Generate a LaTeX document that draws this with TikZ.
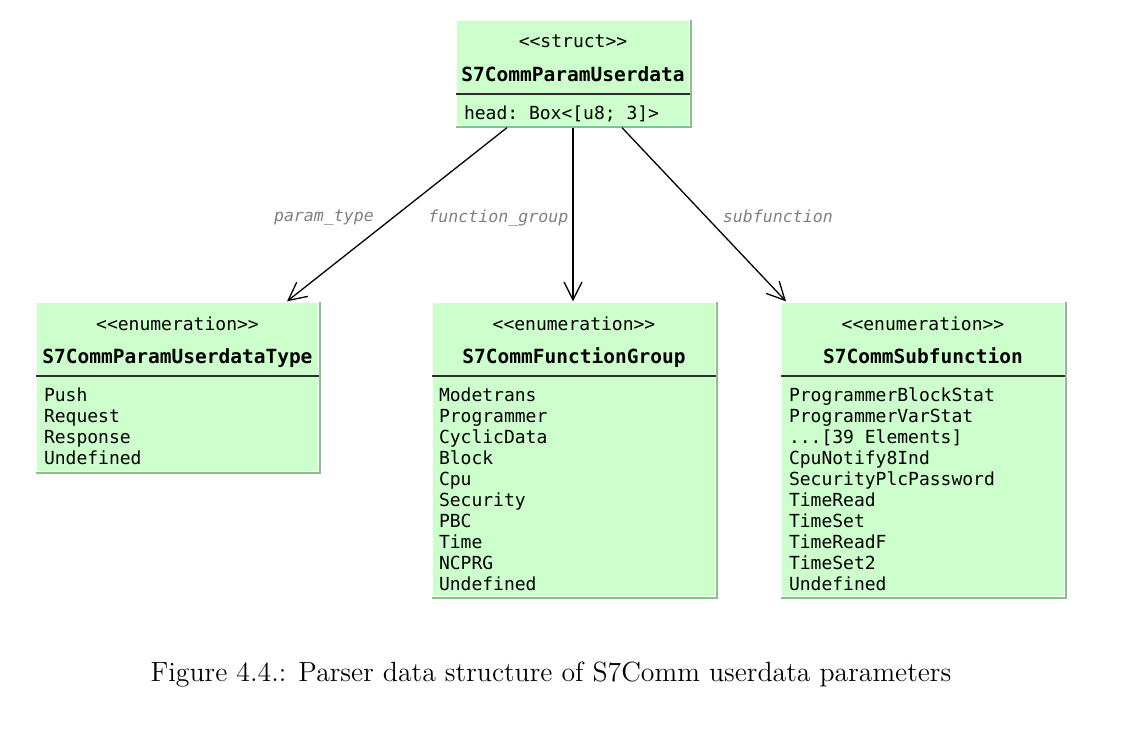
\documentclass[tikz,border=0pt]{standalone}
\usepackage{fontspec}
\setmonofont{DejaVu Sans Mono}
\usetikzlibrary{arrows.meta,positioning}
\definecolor{umlfill}{RGB}{204,255,204}
\definecolor{umlshade}{RGB}{143,188,143}
\definecolor{umlrule}{RGB}{45,45,45}

\begin{document}
\begin{tikzpicture}[x=0.5pt,y=-0.5pt,>={Straight Barb[length=9pt,width=9pt]},
                    line width=0.65pt,
                    classbox/.style={rectangle,fill=umlfill,inner sep=0pt},
                    shade/.style={-,draw=umlshade,line width=1pt},
                    rule/.style={-,draw=umlrule,line width=1pt},
                    stereo/.style={anchor=base,inner sep=0pt,font=\ttfamily\fontsize{9}{10.5}\selectfont},
                    cname/.style={anchor=base,inner sep=0pt,font=\ttfamily\bfseries\fontsize{9.75}{12}\selectfont},
                    members/.style={anchor=base west,inner sep=0pt,font=\ttfamily\fontsize{9}{10.5}\selectfont},
                    lbl/.style={inner sep=0pt,text=gray,font=\ttfamily\itshape\fontsize{8.3}{10}\selectfont},
                    caption/.style={anchor=base,inner sep=0pt,font=\fontsize{13.9}{17}\selectfont}]

\useasboundingbox (0,0) rectangle (1129,735);

% struct
\node[classbox,minimum width=116pt,minimum height=52pt] (struct) at (573,73) {};
\node[stereo] (struct-st) at ([yshift=-13.5pt]struct.north) {<<struct>>};
\node[cname] (struct-nm) at ([yshift=-30.5pt]struct.north) {S7CommParamUserdata};
\node[members] (struct-mb) at ([xshift=3.5pt,yshift=-49.5pt]struct.north west)
  {\begin{tabular}[t]{@{}l@{}}head: Box<[u8; 3]>\end{tabular}};
\draw[rule] ([yshift=-36.75pt]struct.north west) -- ([yshift=-36.75pt]struct.north east);
\draw[shade] ([xshift=0.5pt]struct.north east) -- ([xshift=0.5pt,yshift=-0.5pt]struct.south east)
  -- ([yshift=-0.5pt]struct.south west);

% enumerations
\node[classbox,minimum width=140.5pt,minimum height=84pt] (ptype) at (177.5,387) {};
\node[stereo] (ptype-st) at ([yshift=-14pt]ptype.north) {<<enumeration>>};
\node[cname] (ptype-nm) at ([yshift=-30.5pt]ptype.north) {S7CommParamUserdataType};
\node[members] (ptype-mb) at ([xshift=3.5pt,yshift=-49.75pt]ptype.north west)
  {\begin{tabular}[t]{@{}l@{}}Push\\Request\\Response\\Undefined\end{tabular}};
\draw[rule] ([yshift=-36.75pt]ptype.north west) -- ([yshift=-36.75pt]ptype.north east);
\draw[shade] ([xshift=0.5pt]ptype.north east) -- ([xshift=0.5pt,yshift=-0.5pt]ptype.south east)
  -- ([yshift=-0.5pt]ptype.south west);

\node[classbox,minimum width=141pt,minimum height=146.5pt] (fgroup) at (574,449.5) {};
\node[stereo] (fgroup-st) at ([yshift=-14pt]fgroup.north) {<<enumeration>>};
\node[cname] (fgroup-nm) at ([yshift=-30.5pt]fgroup.north) {S7CommFunctionGroup};
\node[members] (fgroup-mb) at ([xshift=3pt,yshift=-49.75pt]fgroup.north west)
  {\begin{tabular}[t]{@{}l@{}}Modetrans\\Programmer\\CyclicData\\Block\\Cpu\\Security\\PBC\\Time\\NCPRG\\Undefined\end{tabular}};
\draw[rule] ([yshift=-36.75pt]fgroup.north west) -- ([yshift=-36.75pt]fgroup.north east);
\draw[shade] ([xshift=0.5pt]fgroup.north east) -- ([xshift=0.5pt,yshift=-0.5pt]fgroup.south east)
  -- ([yshift=-0.5pt]fgroup.south west);

\node[classbox,minimum width=141pt,minimum height=146.5pt] (subfn) at (923,449.5) {};
\node[stereo] (subfn-st) at ([yshift=-14pt]subfn.north) {<<enumeration>>};
\node[cname] (subfn-nm) at ([yshift=-30.5pt]subfn.north) {S7CommSubfunction};
\node[members] (subfn-mb) at ([xshift=3.5pt,yshift=-49.75pt]subfn.north west)
  {\begin{tabular}[t]{@{}l@{}}ProgrammerBlockStat\\ProgrammerVarStat\\...[39 Elements]\\CpuNotify8Ind\\SecurityPlcPassword\\TimeRead\\TimeSet\\TimeReadF\\TimeSet2\\Undefined\end{tabular}};
\draw[rule] ([yshift=-36.75pt]subfn.north west) -- ([yshift=-36.75pt]subfn.north east);
\draw[shade] ([xshift=0.5pt]subfn.north east) -- ([xshift=0.5pt,yshift=-0.5pt]subfn.south east)
  -- ([yshift=-0.5pt]subfn.south west);


\draw 
([xshift=-33pt,yshift=-1pt]struct.south) edge[->] node[lbl,pos=0.52,left=9pt] {param\_type} ([xshift=54.75pt,yshift=0.5pt]ptype.north)
([yshift=-1pt]struct.south) edge[->] node[lbl,pos=0.52,left=2pt] {function\_group} ([xshift=-0.5pt,yshift=0.5pt]fgroup.north)
([xshift=24.5pt,yshift=-1pt]struct.south) edge[->] node[lbl,pos=0.52,right=7.5pt,yshift=1pt] {subfunction} ([xshift=-68.5pt,yshift=0.5pt]subfn.north)
;

\node[caption] (cap) at (551,681.5) {Figure 4.4.: Parser data structure of S7Comm userdata parameters};

\end{tikzpicture}
\end{document}
